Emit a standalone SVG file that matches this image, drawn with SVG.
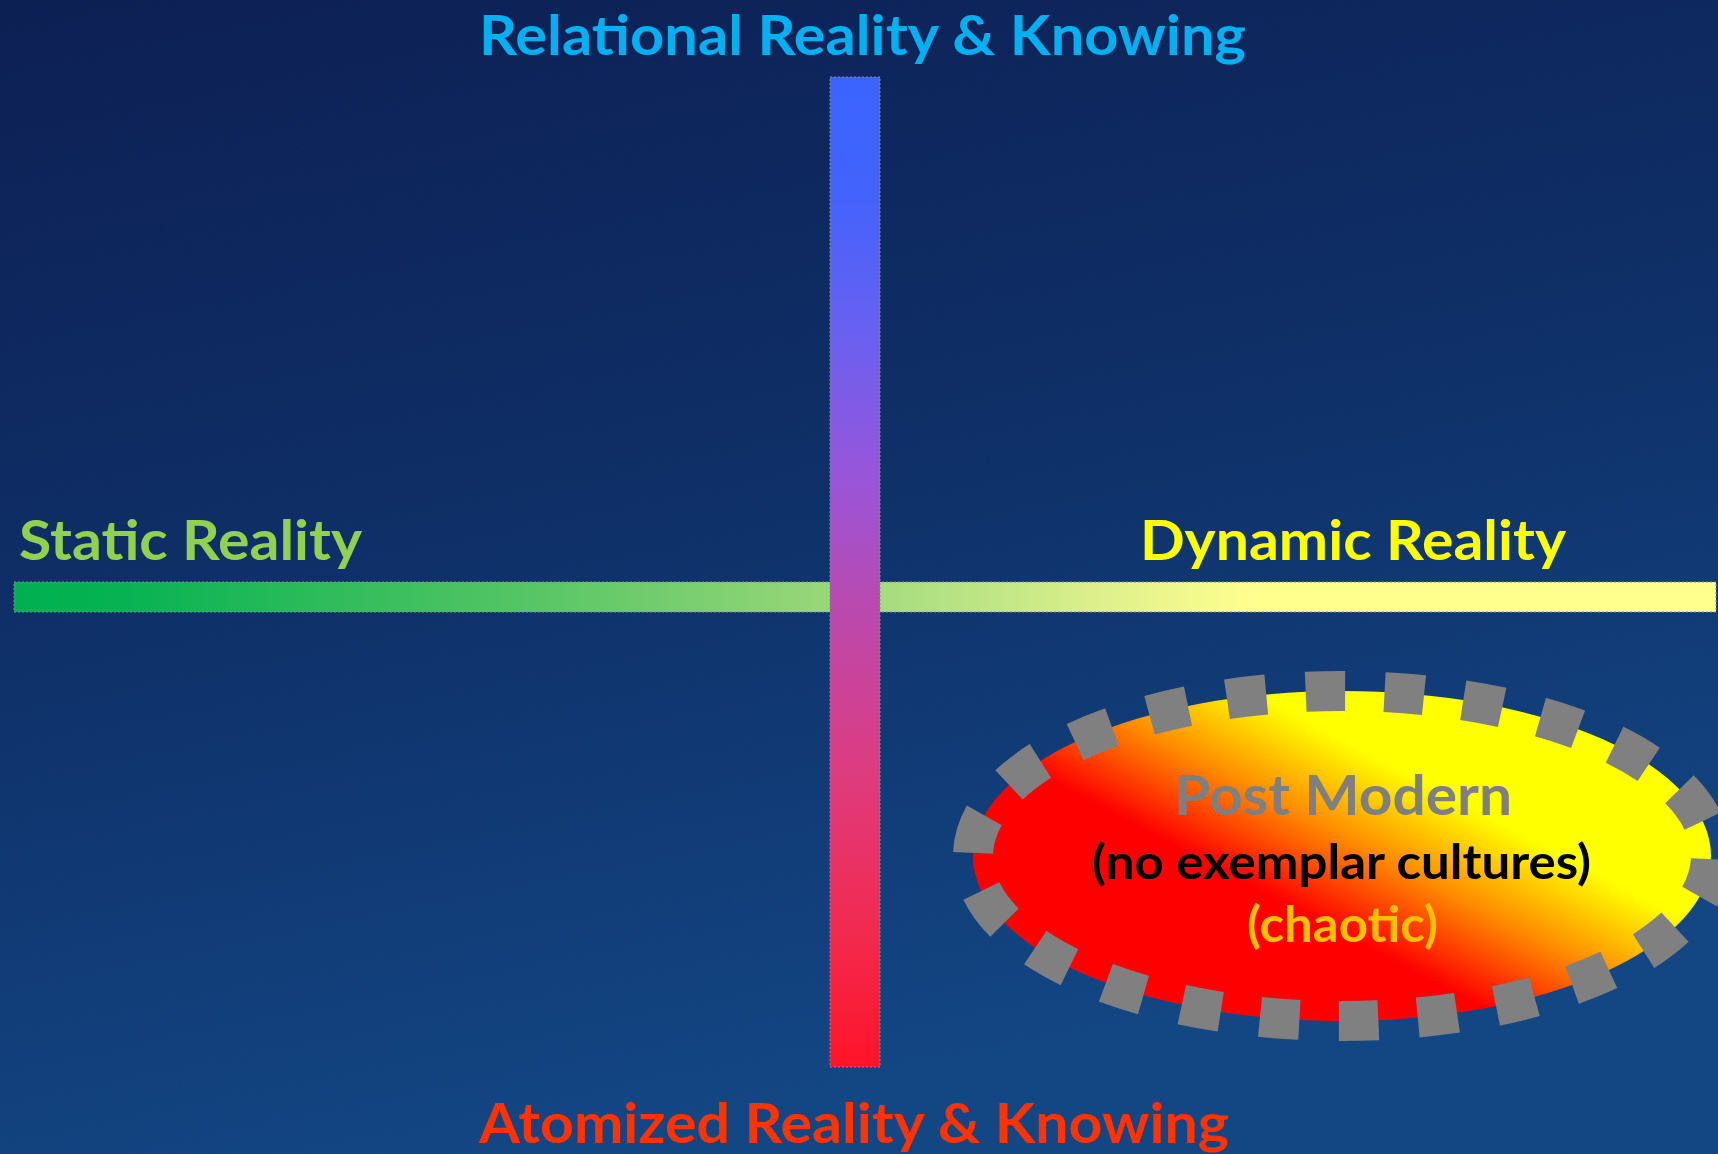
<svg xmlns="http://www.w3.org/2000/svg" width="1718" height="1154" viewBox="0 0 1718 1154">
  <defs>
    <linearGradient id="bg" x1="0" y1="0" x2="0.3" y2="1">
      <stop offset="0" stop-color="#0a1d52"/>
      <stop offset="0.5" stop-color="#0c2d66"/>
      <stop offset="1" stop-color="#104482"/>
    </linearGradient>
    <linearGradient id="vgrad" x1="0" y1="0" x2="0" y2="1">
      <stop offset="0" stop-color="#3a64ff"/>
      <stop offset="0.12" stop-color="#4363fc"/>
      <stop offset="0.26" stop-color="#6a60f0"/>
      <stop offset="0.41" stop-color="#9a55d8"/>
      <stop offset="0.53" stop-color="#b84ab0"/>
      <stop offset="0.70" stop-color="#dd3c80"/>
      <stop offset="0.86" stop-color="#f22a50"/>
      <stop offset="1" stop-color="#ff1428"/>
    </linearGradient>
    <linearGradient id="hgrad" x1="0" y1="0" x2="1" y2="0">
      <stop offset="0" stop-color="#00b050"/>
      <stop offset="0.06" stop-color="#06b252"/>
      <stop offset="0.30" stop-color="#55c565"/>
      <stop offset="0.45" stop-color="#8ed475"/>
      <stop offset="0.55" stop-color="#b5e284"/>
      <stop offset="0.64" stop-color="#dff08c"/>
      <stop offset="0.73" stop-color="#ffff8e"/>
      <stop offset="1" stop-color="#ffff8e"/>
    </linearGradient>
    <linearGradient id="egrad" gradientUnits="userSpaceOnUse" x1="1320" y1="922" x2="1400" y2="770">
      <stop offset="0" stop-color="#ff0000"/>
      <stop offset="0.5" stop-color="#ff8a00"/>
      <stop offset="1" stop-color="#ffff00"/>
    </linearGradient>
    <filter id="noise" x="0" y="0" width="100%" height="100%">
      <feTurbulence type="fractalNoise" baseFrequency="0.9" numOctaves="2" seed="3"/>
      <feColorMatrix type="matrix" values="0 0 0 0 1  0 0 0 0 1  0 0 0 0 1  0 0 0 0.5 0"/>
    </filter>
  </defs>
  <style>
    .lbl { font-family: "Lato", "Open Sans", "Liberation Sans", sans-serif; font-weight: 700; }
    .big { font-size: 56px; }
    .bar { stroke: #8a8a8a; stroke-width: 1; stroke-dasharray: 2 2; }
  </style>

  <rect x="0" y="0" width="1718" height="1154" fill="url(#bg)"/>
  <rect x="0" y="0" width="1718" height="1154" filter="url(#noise)" opacity="0.05"/>

  <g id="axes">
    <rect id="h-axis" class="bar" x="14" y="582" width="1702" height="30" fill="url(#hgrad)"/>
    <rect id="v-axis" class="bar" x="830" y="77" width="50" height="990" fill="url(#vgrad)"/>
  </g>

  <g id="label-relational">
    <text class="lbl big" x="479" y="55" textLength="767" lengthAdjust="spacingAndGlyphs" fill="#00b0f0">Relational Reality &amp; Knowing</text>
  </g>
  <g id="label-static">
    <text class="lbl big" x="19" y="560" textLength="343" lengthAdjust="spacingAndGlyphs" fill="#92d050">Static Reality</text>
  </g>
  <g id="label-dynamic">
    <text class="lbl big" x="1140" y="560" textLength="426" lengthAdjust="spacingAndGlyphs" fill="#ffff00">Dynamic Reality</text>
  </g>
  <g id="label-atomized">
    <text class="lbl big" x="479" y="1143" textLength="750" lengthAdjust="spacingAndGlyphs" fill="#ff3300">Atomized Reality &amp; Knowing</text>
  </g>

  <g id="post-modern">
    <ellipse cx="1342" cy="856" rx="369" ry="165" fill="url(#egrad)"/>
    <ellipse cx="1342" cy="856" rx="369" ry="165" fill="none" stroke="#808080" stroke-width="40" pathLength="2200" stroke-dasharray="50 50" stroke-dashoffset="96"/>
    <text class="lbl" x="1174" y="815" font-size="56" textLength="338" lengthAdjust="spacingAndGlyphs" fill="#7f7f7f">Post Modern</text>
    <text class="lbl" x="1092" y="879" font-size="48" textLength="499" lengthAdjust="spacingAndGlyphs" fill="#000000">(no exemplar cultures)</text>
    <text class="lbl" x="1247" y="942" font-size="50" textLength="191" lengthAdjust="spacingAndGlyphs" fill="#ffc000">(chaotic)</text>
  </g>
</svg>
